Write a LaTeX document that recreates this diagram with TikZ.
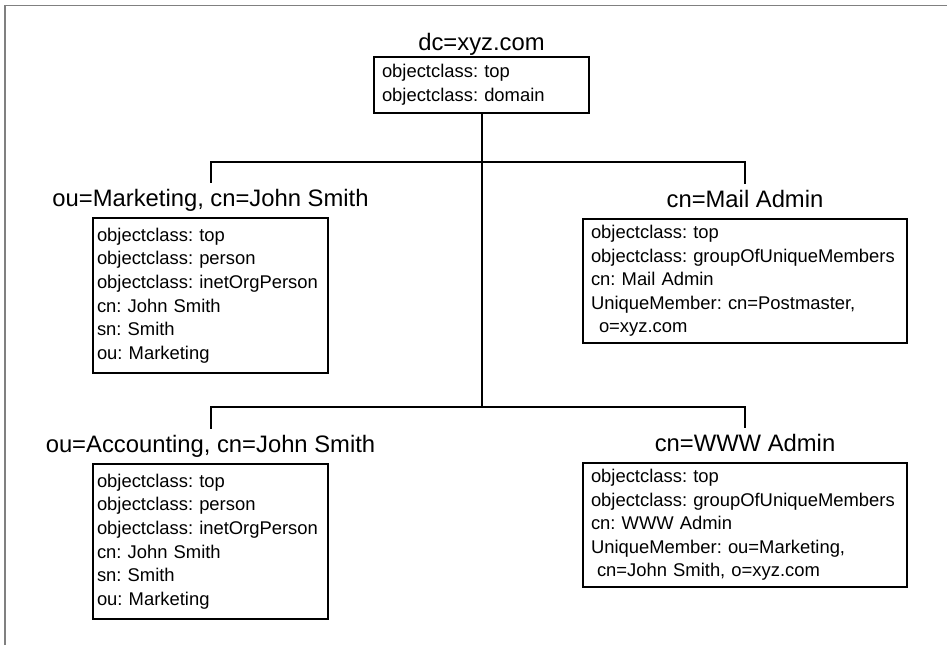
\documentclass[tikz,border=0pt]{standalone}
\usepackage{fontspec}
\setmainfont{Liberation Sans}
\usetikzlibrary{positioning}

\begin{document}
\begin{tikzpicture}[x=1pt,y=-1pt,
  entry/.style={draw, line width=2.2pt, align=left, inner ysep=0pt,
    font=\fontsize{18.4}{23.6}\selectfont\frenchspacing},
  dn/.style={inner sep=0pt, text height=24pt, text depth=5pt,
    font=\fontsize{23.8}{28}\selectfont},
  link/.style={line width=2pt}]
\useasboundingbox (0,0) rectangle (947,645);
\draw [gray, line width=1.2pt] (5,645) -- (5,5.5) -- (947,5.5);

\node [entry, text width=199pt, inner xsep=8pt, minimum height=56pt] (root) at (481.5,85)
  {objectclass: top\\objectclass: domain};
\node [dn, above=0pt of root] (root-dn) {dc=xyz.com};

\node [entry, text width=227pt, inner xsep=4pt, minimum height=155pt] (mkt) at (210.5,295.5)
  {objectclass: top\\objectclass: person\\objectclass: inetOrgPerson\\cn: John Smith\\sn: Smith\\ou: Marketing};
\node [dn, above=5pt of mkt] (mkt-dn) {ou=Marketing, cn=John Smith};

\node [entry, text width=308pt, inner xsep=8pt, minimum height=124pt] (mail) at (745,281)
  {objectclass: top\\objectclass: groupOfUniqueMembers\\cn: Mail Admin\\UniqueMember: cn=Postmaster,\\\hspace*{8pt}o=xyz.com};
\node [dn, above=5pt of mail] (mail-dn) {cn=Mail Admin};

\node [entry, text width=227pt, inner xsep=4pt, minimum height=155pt] (acc) at (210.5,541.5)
  {objectclass: top\\objectclass: person\\objectclass: inetOrgPerson\\cn: John Smith\\sn: Smith\\ou: Marketing};
\node [dn, above=5pt of acc] (acc-dn) {ou=Accounting, cn=John Smith};

\node [entry, text width=308pt, inner xsep=8pt, minimum height=124pt] (www) at (745,525)
  {objectclass: top\\objectclass: groupOfUniqueMembers\\cn: WWW Admin\\UniqueMember: ou=Marketing,\\\hspace*{6pt}cn=John Smith, o=xyz.com};
\node [dn, above=5pt of www] (www-dn) {cn=WWW Admin};

\coordinate (upper) at (481.5,162);
\coordinate (lower) at (481.5,407);
\draw [link] (root.south) -- (lower);
\draw [link] (mkt-dn.north) |- (upper) -| (mail-dn.north);
\draw [link] (acc-dn.north) |- (lower) -| (www-dn.north);
\end{tikzpicture}
\end{document}
